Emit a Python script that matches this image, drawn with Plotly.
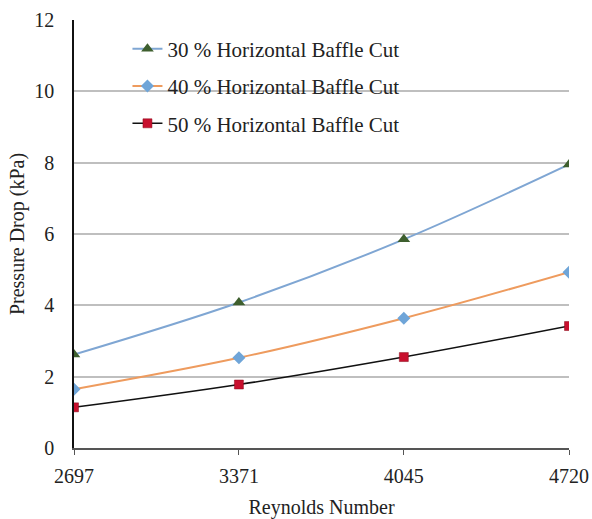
import plotly.graph_objects as go

reynolds = [2697, 3371, 4045, 4720]
cut30 = [2.62, 4.08, 5.85, 7.95]
cut40 = [1.65, 2.53, 3.64, 4.93]
cut50 = [1.14, 1.78, 2.55, 3.42]
tick_labels = ["2697", "3371", "4045", "4720"]

F = "Liberation Serif"
fig = go.Figure()
fig.add_trace(go.Scatter(x=reynolds, y=cut30, mode="lines+markers", name="30 % Horizontal Baffle Cut",
                         legendgroup="a",
                         line=dict(color="#7fa6d3", width=2, shape="spline"),
                         marker=dict(symbol="triangle-up", size=11, color="#3e5f2e")))
fig.add_trace(go.Scatter(x=reynolds, y=cut40, mode="lines+markers", name="40 % Horizontal Baffle Cut",
                         legendgroup="b",
                         line=dict(color="#ee9b5e", width=2, shape="spline"),
                         marker=dict(symbol="diamond", size=10, color="#6fa5d8")))
fig.add_trace(go.Scatter(x=reynolds, y=cut50, mode="lines+markers", name="50 % Horizontal Baffle Cut",
                         legendgroup="c",
                         line=dict(color="#111111", width=1.5, shape="spline"),
                         marker=dict(symbol="square", size=9, color="#c8102e", line=dict(color="#8a0a1a", width=0.5))))

fig.update_layout(
    width=592, height=519,
    margin=dict(l=74, r=23, t=20, b=71),
    paper_bgcolor="white", plot_bgcolor="white",
    font=dict(family=F, size=20, color="#222222"),
    showlegend=True,
    legend=dict(x=0.108, y=0.98, xanchor="left", yanchor="top", bgcolor="rgba(0,0,0,0)",
                font=dict(family=F, size=21, color="#222222"),
                itemwidth=30, tracegroupgap=7),
)
fig.update_xaxes(range=[2697, 4720], tickvals=reynolds, ticktext=tick_labels,
                 tickfont=dict(family=F, size=20, color="#222222"),
                 showgrid=False, showline=True, linecolor="#555555", linewidth=1.5,
                 ticks="outside", ticklen=5, tickcolor="#555555", automargin=False,
                 ticklabelstandoff=4,
                 title=dict(text="Reynolds Number", standoff=26,
                            font=dict(family=F, size=20, color="#222222")),
                 zeroline=False)
fig.update_yaxes(range=[0, 12], dtick=2, showgrid=True, gridcolor="#bfbfbf", gridwidth=1.5,
                 tickfont=dict(family=F, size=20, color="#222222"),
                 showline=True, linecolor="#111111", linewidth=1.5, ticks="", automargin=False,
                 ticklabelstandoff=14,
                 title=dict(text="Pressure Drop (kPa)", standoff=4,
                            font=dict(family=F, size=20, color="#222222")),
                 zeroline=False)

fig.write_html("out.html", config={"displayModeBar": False},
               post_script="document.body.style.margin='0';document.documentElement.style.overflow='hidden';")
